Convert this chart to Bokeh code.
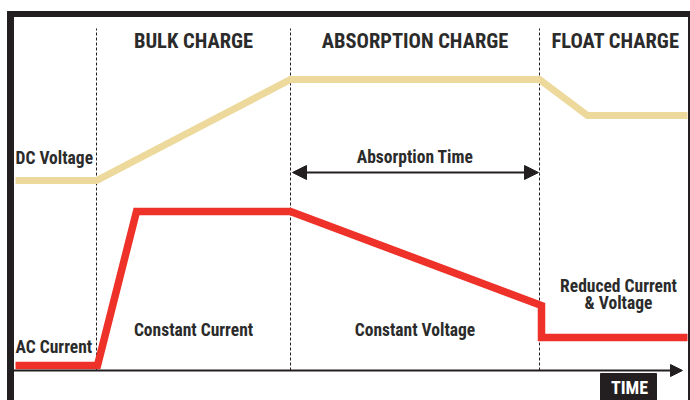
from bokeh.plotting import figure
from bokeh.models import Range1d, Arrow, NormalHead
from bokeh.core.properties import value
from bokeh.embed import file_html
from bokeh.resources import INLINE

# ---- data (chart units: time to the right, level upwards) ----
phase_names = ["BULK CHARGE", "ABSORPTION CHARGE", "FLOAT CHARGE"]
phase_bounds = [88, 282, 531, 683]          # start of bulk, absorption, float, end
phase_notes = ["Constant Current", "Constant Voltage"]

voltage_t = [7, 88, 282, 531, 579, 679]
voltage_v = [220, 220, 321, 321, 285, 285]

current_t = [7, 89, 128, 282, 533, 533, 679]
current_v = [35, 35, 189, 189, 95, 63, 63]

time_start, time_end, time_level = 5, 674, 30

W, H = 690, 400
FONT = value("Roboto Condensed")
DARK = "#2b2b2b"
INK = "#231f20"
TAN = "#ecd99b"
RED = "#ee3129"

p = figure(width=W, height=H, x_range=Range1d(-8, W - 8), y_range=Range1d(0, H),
           output_backend="svg", toolbar_location=None, min_border=0)
p.axis.visible = False
p.grid.visible = False
p.outline_line_color = None
p.background_fill_color = "white"
p.border_fill_color = "white"

# frame
p.quad(left=[-1], right=[5], bottom=[-10], top=[389], color=INK)
p.quad(left=[-1], right=[W], bottom=[384], top=[389], color=INK)
p.quad(left=[680], right=[682], bottom=[-10], top=[389], color=INK)

# phase dividers
div_x = phase_bounds[:3]
p.segment(x0=div_x, x1=div_x, y0=[time_level] * 3, y1=[372] * 3,
          line_color=INK, line_width=1, line_dash="3 2")

# time axis
p.add_layout(Arrow(end=NormalHead(size=12, fill_color=INK, line_color=INK),
                   x_start=time_start, y_start=time_level, x_end=time_end, y_end=time_level,
                   line_color=INK, line_width=2))

# series
p.line(voltage_t, voltage_v, line_color=TAN, line_width=7, line_join="miter", line_cap="butt")
p.line(current_t, current_v, line_color=RED, line_width=7.5, line_join="miter", line_cap="butt")

# absorption time arrow
a0, a1 = phase_bounds[1], phase_bounds[2]
p.add_layout(Arrow(start=NormalHead(size=14, fill_color=INK, line_color=INK),
                   end=NormalHead(size=14, fill_color=INK, line_color=INK),
                   x_start=a0 + 2, y_start=228, x_end=a1 - 1, y_end=228,
                   line_color=INK, line_width=2))

centers = [(phase_bounds[i] + phase_bounds[i + 1]) / 2 for i in range(3)]

p.text(x=centers, y=[360] * 3, text=phase_names, text_font=FONT, text_font_style="bold",
       text_font_size="20.5px", text_color=DARK, text_align="center", text_baseline="alphabetic")

p.text(x=centers[:2], y=[71, 71], text=phase_notes, text_font=FONT, text_font_style="bold",
       text_font_size="17.5px", text_color=DARK, text_align="center", text_baseline="alphabetic")

p.text(x=[centers[1]], y=[244], text=["Absorption Time"], text_font=FONT, text_font_style="bold",
       text_font_size="17.5px", text_color=DARK, text_align="center", text_baseline="alphabetic")

p.text(x=[centers[2] + 3, centers[2] + 3], y=[115, 98], text=["Reduced Current", "& Voltage"],
       text_font=FONT, text_font_style="bold", text_font_size="17.5px", text_color=DARK,
       text_align="center", text_baseline="alphabetic")

p.text(x=[voltage_t[0], current_t[0]], y=[243, 54], text=["DC Voltage", "AC Current"],
       text_font=FONT, text_font_style="bold", text_font_size="17.5px", text_color=DARK,
       text_align="left", text_baseline="alphabetic")

# TIME badge
p.quad(left=[592], right=[648], bottom=[-10], top=[27], color=INK)
p.text(x=[621], y=[13], text=["TIME"], text_font=FONT, text_font_style="bold",
       text_font_size="18px", text_color="white", text_align="center", text_baseline="alphabetic")

open("out.html", "w").write(file_html(p, INLINE))
